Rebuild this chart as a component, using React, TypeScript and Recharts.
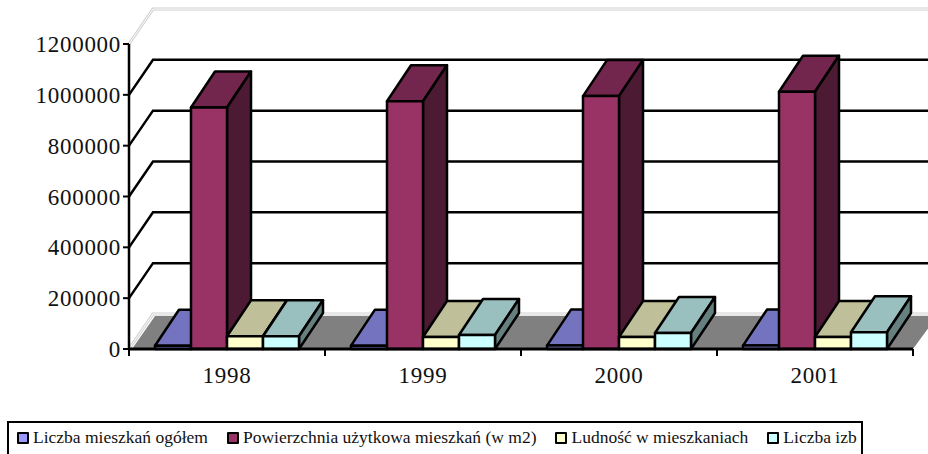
import React from "react"
import { BarChart, Bar, XAxis, YAxis, CartesianGrid, Legend } from "recharts"

const years = ["1998", "1999", "2000", "2001"]
const liczbaMieszkan = [12900, 13100, 13300, 13500]
const powierzchnia = [950000, 975000, 995000, 1012000]
const ludnosc = [50000, 47000, 47000, 47000]
const liczbaIzb = [50000, 55000, 63000, 66000]
const yTicks = [0, 200000, 400000, 600000, 800000, 1000000, 1200000]

const data = years.map((year, i) => ({
    year,
    mieszkania: liczbaMieszkan[i],
    powierzchnia: powierzchnia[i],
    ludnosc: ludnosc[i],
    izby: liczbaIzb[i],
}))

const SERIES = [
    { key: "mieszkania", name: "Liczba mieszkań ogółem", front: "#9999FF", top: "#7373BF", side: "#4D4D80" },
    { key: "powierzchnia", name: "Powierzchnia użytkowa mieszkań (w m2)", front: "#993366", top: "#73264D", side: "#4D1A33" },
    { key: "ludnosc", name: "Ludność w mieszkaniach", front: "#FFFFCC", top: "#BFBF99", side: "#808066" },
    { key: "izby", name: "Liczba izb", front: "#CCFFFF", top: "#99BFBF", side: "#668080" },
]

const FONT = "'Liberation Serif', serif"
// oblique shift of the 3D depth
const DX = 24
const DY = 36
const GRID_DY = 35

function bar3D(top: string, side: string) {
    return (props: any) => {
        const { x, y, width, height, fill } = props
        const r = x + width
        const b = y + height
        return (
            <g stroke="#000" strokeWidth={2.5} strokeLinejoin="round">
                <polygon fill={top} points={`${x},${y} ${x + DX},${y - DY} ${r + DX},${y - DY} ${r},${y}`} />
                <polygon fill={side} points={`${r},${y} ${r + DX},${y - DY} ${r + DX},${b - DY} ${r},${b}`} />
                <rect x={x} y={y} width={width} height={height} fill={fill} />
            </g>
        )
    }
}

function gridLine(props: any) {
    const { x1, x2, y1, index } = props
    const path = `M${x1},${y1} L${x1 + DX},${y1 - GRID_DY} L${x2 + DX},${y1 - GRID_DY}`
    const isFloor = Math.round(y1) > 340
    const isTop = Math.round(y1) < 50
    if (isFloor || isTop) {
        return (
            <g key={`grid-${index}-${y1}`} fill="none">
                {isFloor && (
                    <polygon
                        fill="#808080"
                        points={`${x1 + 3},${y1} ${x1 + DX + 2},${y1 - GRID_DY + 2} ${x2 + DX},${y1 - GRID_DY + 2} ${x2},${y1}`}
                    />
                )}
                <path d={path} stroke="#D0D0D0" strokeWidth={3} />
                <path d={path} stroke="#FFFFFF" strokeWidth={1} />
            </g>
        )
    }
    return <path key={`grid-${index}-${y1}`} d={path} fill="none" stroke="#000" strokeWidth={2.5} />
}

function YearTick(props: any) {
    const { x, y, payload, index } = props
    const half = 98
    return (
        <g>
            <line x1={x - half} x2={x - half} y1={y - 8} y2={y - 1} stroke="#000" strokeWidth={2} />
            {index === years.length - 1 && (
                <line x1={x + half} x2={x + half} y1={y - 8} y2={y - 1} stroke="#000" strokeWidth={2} />
            )}
            <text x={x} y={y + 26} textAnchor="middle" fontFamily={FONT} fontSize={23} letterSpacing={0.7} fill="#111">
                {payload.value}
            </text>
        </g>
    )
}

function LegendBox() {
    return (
        <div
            style={{
                boxSizing: "border-box",
                width: 856,
                height: 33,
                border: "2px solid #000",
                borderBottom: "none",
                display: "flex",
                alignItems: "center",
                gap: 19,
                paddingLeft: 8,
                paddingBottom: 2,
                fontFamily: FONT,
                fontSize: 17.5,
                color: "#111",
                whiteSpace: "nowrap",
            }}
        >
            {SERIES.map((s) => (
                <span key={s.key} style={{ display: "flex", alignItems: "center", gap: 4 }}>
                    <span style={{ width: 8, height: 8, background: s.front, border: "2px solid #000", borderRadius: 1 }} />
                    {s.name}
                </span>
            ))}
        </div>
    )
}

export default function App() {
    return (
        <div style={{ position: "absolute", left: 0, top: 0, width: 928, height: 454, overflow: "hidden", background: "#fff" }}>
            <BarChart
                width={928}
                height={454}
                data={data}
                barCategoryGap={26}
                barGap={0}
                margin={{ top: 44, right: 15, left: 0, bottom: 0 }}
            >
                <CartesianGrid vertical={false} horizontal={gridLine} />
                <XAxis
                    dataKey="year"
                    axisLine={{ stroke: "#000", strokeWidth: 3 }}
                    tickLine={false}
                    tick={<YearTick />}
                    height={72}
                    interval={0}
                />
                <YAxis
                    width={129}
                    domain={[0, 1200000]}
                    ticks={yTicks}
                    axisLine={{ stroke: "#000", strokeWidth: 2.5 }}
                    tickLine={{ stroke: "#000", strokeWidth: 2 }}
                    tickSize={6}
                    tick={{ fontFamily: FONT, fontSize: 23, letterSpacing: 0.7, fill: "#111" }}
                />
                {SERIES.map((s) => (
                    <Bar
                        key={s.key}
                        dataKey={s.key}
                        name={s.name}
                        fill={s.front}
                        isAnimationActive={false}
                        shape={bar3D(s.top, s.side)}
                    />
                ))}
                <Legend
                    content={<LegendBox />}
                    wrapperStyle={{ left: 7, top: 421, bottom: "auto", width: 856, height: 33 }}
                />
            </BarChart>
        </div>
    )
}
